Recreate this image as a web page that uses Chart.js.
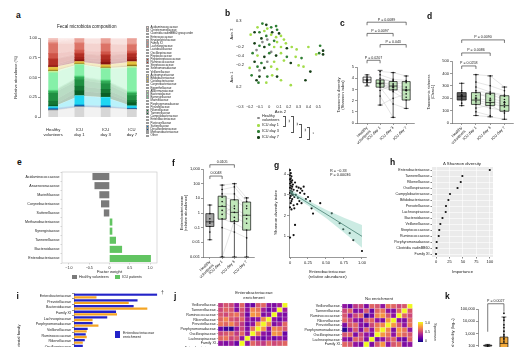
<!DOCTYPE html>
<html>
<head>
<meta charset="utf-8">
<script src="https://cdn.jsdelivr.net/npm/chart.js@4.4.1/dist/chart.umd.min.js"></script>
<style>
  body { margin: 0; background: #fff; overflow: hidden; }
  #fig { position: relative; width: 529px; height: 347px; overflow: hidden; font-family: 'Liberation Sans', Arial, sans-serif; color: #222; }
  canvas { position: absolute; }
  .t { position: absolute; font-size: 4px; line-height: 1.15; white-space: nowrap; }
  .c { transform: translateX(-50%); text-align: center; }
  .L { position: absolute; font-size: 8.5px; line-height: 1; font-weight: bold; color: #111; }
  .rc { position: absolute; font-size: 4px; white-space: nowrap; transform: translate(-50%, -50%) rotate(-90deg); }
  .dot { position: absolute; width: 2.6px; height: 2.6px; border-radius: 50%; }
  .br { position: absolute; width: 1.6px; border: 0.6px solid #555; border-left: none; }
  #legendA { position: absolute; left: 146px; top: 26px; }
  #legendA div { height: 3.2px; font-size: 2.9px; line-height: 3.2px; white-space: nowrap; }
  #legendA span { display: inline-block; width: 3px; height: 2.5px; margin-right: 1.5px; vertical-align: top; margin-top: 0.3px; border: 0.2px solid #999; box-sizing: border-box; }
</style>
</head>
<body>
<div id="fig">
  <canvas id="chartA" width="136" height="107" style="left:12px;top:30px"></canvas>
  <canvas id="chartB" width="105" height="105" style="left:225px;top:10px"></canvas>
  <canvas id="chartC" width="82" height="133" style="left:336px;top:12px"></canvas>
  <canvas id="chartD" width="91" height="133" style="left:426px;top:12px"></canvas>
  <canvas id="chartE" width="147" height="106" style="left:12px;top:168px"></canvas>
  <canvas id="chartF" width="79" height="122" style="left:179px;top:158px"></canvas>
  <canvas id="chartG" width="97" height="120" style="left:273px;top:160px"></canvas>
  <canvas id="chartH" width="140" height="115" style="left:357px;top:160px"></canvas>
  <canvas id="chartI" width="166" height="106" style="left:16px;top:290px"></canvas>
  <canvas id="chartJ1" width="118" height="73" style="left:174px;top:296px"></canvas>
  <canvas id="chartJ2" width="119" height="73" style="left:298px;top:297px"></canvas>
  <canvas id="chartK" width="79" height="95" style="left:450px;top:290px"></canvas>

  <div class="L" style="left:16px;top:10.5px">a</div>
  <div class="L" style="left:225px;top:9px">b</div>
  <div class="L" style="left:340px;top:19px">c</div>
  <div class="L" style="left:427px;top:12px">d</div>
  <div class="L" style="left:17px;top:158px">e</div>
  <div class="L" style="left:172px;top:159px">f</div>
  <div class="L" style="left:274px;top:161px">g</div>
  <div class="L" style="left:390px;top:158px">h</div>
  <div class="L" style="left:16.5px;top:292px">i</div>
  <div class="L" style="left:174px;top:292px">j</div>
  <div class="L" style="left:445px;top:292px">k</div>

  <div class="t" style="left:57px;top:23.5px;font-size:4.6px">Fecal microbiota composition</div>
  <div id="legendA"></div>

  <div class="rc" style="left:231px;top:34px">Axis 3</div>
  <div class="rc" style="left:231px;top:77px">Axis 1</div>
  <div class="t" style="left:236px;top:19px">0.3</div>
  <div class="t" style="left:236px;top:44.5px">−0.2</div>
  <div class="t" style="left:236px;top:53.5px">−0.4</div>
  <div class="t" style="left:236px;top:62.5px">−0.2</div>
  <div class="t" style="left:236px;top:84.5px">0.2</div>
  <div class="dot" style="left:257px;top:116.7px;background:#8a8a8a"></div>
  <div class="t" style="left:262px;top:114px;font-size:3.8px">Healthy<br>volunteers</div>
  <div class="dot" style="left:257px;top:124.2px;background:#a3dc4a"></div>
  <div class="t" style="left:262px;top:123.3px;font-size:3.8px">ICU day 1</div>
  <div class="dot" style="left:257px;top:130.2px;background:#2f7f34"></div>
  <div class="t" style="left:262px;top:129.3px;font-size:3.8px">ICU day 3</div>
  <div class="dot" style="left:257px;top:136.2px;background:#173f17"></div>
  <div class="t" style="left:262px;top:135.3px;font-size:3.8px">ICU day 7</div>
  <div class="br" style="left:283px;top:116px;height:9px"></div>
  <div class="rc" style="left:288px;top:120.5px;transform:translate(-50%,-50%) rotate(90deg)">**</div>
  <div class="br" style="left:291px;top:116px;height:15px"></div>
  <div class="rc" style="left:296px;top:123.5px;transform:translate(-50%,-50%) rotate(90deg)">**</div>
  <div class="br" style="left:299px;top:124px;height:12px"></div>
  <div class="rc" style="left:304px;top:130px;transform:translate(-50%,-50%) rotate(90deg)">**</div>
  <div class="br" style="left:307px;top:127px;height:11px"></div>
  <div class="rc" style="left:312px;top:132.5px;transform:translate(-50%,-50%) rotate(90deg)">*</div>

  <div style="position:absolute;left:72px;top:275px;width:5px;height:4px;background:#7a7a7a"></div>
  <div class="t" style="left:79px;top:275px;font-size:3.6px">Healthy volunteers</div>
  <div style="position:absolute;left:115px;top:275px;width:5px;height:4px;background:#62c462"></div>
  <div class="t" style="left:122px;top:275px;font-size:3.6px">ICU patients</div>

  <div class="t" style="left:330px;top:169px;font-size:3.8px">R = −0.33<br>P = 0.00036</div>
  <div class="t" style="left:443px;top:161.5px;font-size:4.3px">Δ Shannon diversity</div>

  <div style="position:absolute;left:115px;top:331px;width:4.5px;height:7px;background:#2323c8"></div>
  <div class="t" style="left:123px;top:331px;font-size:3.6px">Enterobacteriaceae<br>enrichment</div>
  <div class="t" style="left:161px;top:290px;font-size:5px">†</div>

  <div class="t c" style="left:254px;top:291px;font-size:4.3px">Enterobacteriaceae<br>enrichment</div>
  <div class="t c" style="left:379px;top:297px;font-size:4.3px">No enrichment</div>
  <div style="position:absolute;left:418px;top:322px;width:4.5px;height:20px;background:linear-gradient(to top,#0d0887,#6a00a8,#b12a90,#e16462,#fca636,#f0f921)"></div>
  <div class="t" style="left:425px;top:321px;font-size:3.6px">1.0</div>
  <div class="t" style="left:425px;top:330px;font-size:3.6px">0.5</div>
  <div class="t" style="left:425px;top:339px;font-size:3.6px">0</div>
  <div class="rc" style="left:434.5px;top:332px;transform:translate(-50%,-50%) rotate(90deg);font-size:3.8px">Spearman</div>
</div>

<script>
// ---------- data ----------
const families = [
    'Acidaminococcaceae', 'Christensenellaceae', 'Clostridia vadinBB60 group order', 'Enterococcaceae',
    'Erysipelotrichaceae', 'Family XI', 'Lachnospiraceae', 'Lactobacillaceae', 'Oscillospiraceae',
    'Peptococcaceae', 'Peptostreptococcaceae', 'Ruminococcaceae', 'Streptococcaceae', 'Selenomonadaceae',
    'Veillonellaceae', 'Actinomycetaceae', 'Bifidobacteriaceae', 'Coriobacteriaceae', 'Corynebacteriaceae',
    'Eggerthellaceae', 'Akkermansiaceae', 'Bacteroidaceae', 'Barnesiellaceae', 'Marinifilaceae',
    'Porphyromonadaceae', 'Prevotellaceae', 'Rikenellaceae', 'Tannerellaceae', 'Campylobacteraceae',
    'Enterobacteriaceae', 'Pasteurellaceae', 'Sutterellaceae', 'Desulfovibrionaceae', 'Methanobacteriaceae', 'Other'
];
const compGroups = [['Healthy', 'volunteers'], ['ICU', 'day 1'], ['ICU', 'day 3'], ['ICU', 'day 7']];
const healthyComp = [0.01, 0.02, 0.02, 0.005, 0.015, 0.005, 0.12, 0.005, 0.06, 0.005, 0.01, 0.07, 0.01, 0.005, 0.01,
    0.003, 0.03, 0.01, 0.002, 0.005, 0.02, 0.22, 0.01, 0.01, 0.02, 0.1, 0.05, 0.02, 0.002, 0.015, 0.005, 0.013, 0.005, 0.01, 0.08];
const icuDay1Comp = [0.005, 0.005, 0.005, 0.04, 0.01, 0.005, 0.08, 0.01, 0.03, 0.005, 0.01, 0.04, 0.03, 0.005, 0.02,
    0.002, 0.015, 0.008, 0.002, 0.003, 0.01, 0.14, 0.01, 0.01, 0.03, 0.08, 0.06, 0.06, 0.005, 0.11, 0.005, 0.01, 0.01, 0.005, 0.125];
const icuDay3Comp = [0.005, 0.005, 0.005, 0.05, 0.01, 0.005, 0.09, 0.01, 0.03, 0.005, 0.01, 0.05, 0.03, 0.005, 0.03,
    0.003, 0.02, 0.01, 0.003, 0.004, 0.01, 0.14, 0.01, 0.01, 0.03, 0.07, 0.05, 0.05, 0.005, 0.10, 0.005, 0.01, 0.01, 0.005, 0.115];
const icuDay7Comp = [0.005, 0.005, 0.005, 0.06, 0.01, 0.005, 0.07, 0.01, 0.02, 0.005, 0.01, 0.04, 0.03, 0.005, 0.02,
    0.005, 0.03, 0.01, 0.005, 0.01, 0.02, 0.30, 0.01, 0.01, 0.03, 0.06, 0.03, 0.04, 0.002, 0.025, 0.003, 0.005, 0.005, 0.005, 0.095];

// PCoA coordinates [axis 2, projected axis]
const pcoaHealthy = [[-0.02, 0.15], [-0.02, -0.03], [-0.07, 0.13], [-0.13, 0.065], [0.02, 0.05], [-0.10, -0.10]];
const pcoaDay1 = [[-0.12, 0.25], [-0.02, 0.24], [-0.05, 0.22], [-0.19, 0.19], [0.02, 0.19], [0.07, 0.17], [0.12, 0.18],
    [0.08, 0.13], [0.15, 0.15], [0.17, 0.12], [0.05, 0.09], [0.12, 0.09], [0.23, 0.09], [0.28, 0.07], [0.40, 0.09],
    [0.48, 0.03], [-0.12, 0.02], [0.12, 0.04], [0.27, 0.01], [0.05, -0.03], [0.15, -0.02], [0.30, -0.06], [-0.20, -0.08],
    [0.02, -0.07], [0.08, -0.09], [0.35, -0.07], [0.03, -0.14], [0.12, -0.18], [-0.03, -0.20], [0.22, -0.22]];
const pcoaDay3 = [[0.02, 0.25], [0.07, 0.26], [-0.10, 0.21], [0.08, 0.23], [-0.03, 0.18], [0.05, 0.14], [-0.10, 0.10],
    [0.00, 0.11], [0.52, 0.10], [0.51, 0.04], [-0.17, 0.04], [0.00, 0.04], [0.18, 0.01], [0.33, 0.00], [-0.08, -0.04],
    [-0.12, -0.07], [-0.18, -0.14], [-0.02, -0.15], [-0.11, -0.20], [-0.07, 0.28]];
const pcoaDay7 = [[-0.03, 0.27], [-0.15, 0.21], [0.03, 0.21], [0.10, 0.20], [-0.08, 0.16], [-0.15, 0.12], [-0.05, 0.09],
    [0.18, 0.08], [0.55, 0.06], [0.55, 0.03], [-0.05, 0.01], [0.07, 0.02], [-0.15, -0.03], [0.22, -0.04], [-0.05, -0.08],
    [0.42, -0.11], [-0.10, -0.15], [0.08, -0.15], [-0.13, -0.18], [0.37, -0.18]];

const groupLabels = [['Healthy', 'volunteers'], 'ICU day 1', 'ICU day 3', 'ICU day 7'];

// Shannon index (c)
const shannonMin = [3.3, 1.6, 0.5, 1.3];
const shannonQ1 = [3.6, 3.2, 2.95, 2.05];
const shannonMedian = [3.85, 3.55, 3.3, 2.95];
const shannonQ3 = [4.1, 3.85, 3.7, 3.7];
const shannonMax = [4.3, 4.7, 4.5, 4.2];
const shannonMean = [3.8, 3.5, 3.2, 2.9];
const shannonHealthy = [3.4, 3.6, 3.7, 3.75, 3.8, 3.85, 3.9, 4.0, 4.1, 4.3];
const shannonDay1 = [4.6, 4.3, 4.0, 3.8, 3.7, 3.6, 3.55, 3.5, 3.4, 3.3, 3.2, 2.9, 2.4, 1.6];
const shannonDay3 = [4.5, 3.9, 3.7, 3.8, 3.3, 3.5, 3.0, 3.2, 2.95, 2.8, 1.7, 3.4, 0.5, 2.2];
const shannonDay7 = [4.2, 3.8, 3.7, null, 3.0, 3.6, 2.9, 2.3, null, 2.05, 1.3, 3.2, null, 2.6];
const shannonBrackets = [
    { from: 0, to: 3, level: 9.0, label: 'P = 0.0089' },
    { from: 0, to: 2, level: 8.0, label: 'P = 0.0097' },
    { from: 1, to: 3, level: 7.0, label: 'P = 0.043' },
    { from: 0, to: 1, level: 5.6, label: 'P = 0.0207' }
];

// Chao1 richness (d)
const chaoMin = [140, 60, 50, 30];
const chaoQ1 = [185, 150, 140, 95];
const chaoMedian = [215, 185, 165, 140];
const chaoQ3 = [245, 245, 240, 220];
const chaoMax = [320, 390, 380, 290];
const chaoMean = [220, 200, 185, 165];
const chaoHealthy = [140, 160, 185, 200, 210, 220, 230, 245, 260, 320];
const chaoDay1 = [390, 330, 290, 260, 245, 220, 200, 185, 170, 150, 120, 90, 60];
const chaoDay3 = [380, 300, 250, 240, 200, 230, 180, 160, 140, 120, 145, 60, 50];
const chaoDay7 = [290, 260, 225, 215, 170, 190, 150, 130, null, 100, 80, null, 30];
const chaoBrackets = [
    { from: 0, to: 3, level: 670, label: 'P = 0.0090' },
    { from: 0, to: 2, level: 565, label: 'P = 0.0086' },
    { from: 0, to: 1, level: 460, label: 'P = 0.0258' }
];

// Factor weights (e)
const eFamilies = ['Acidaminococcaceae', 'Anaerovoracaceae', 'Marinifilaceae', 'Corynebacteriaceae', 'Sutterellaceae',
    'Methanobacteriaceae', 'Synergistaceae', 'Tannerellaceae', 'Bacteroidaceae', 'Enterobacteriaceae'];
const eWeights = [-0.42, -0.37, -0.25, -0.21, -0.14, 0.07, 0.07, 0.16, 0.31, 1.02];

// Enterobacteriaceae abundance (f)
const entMin = [0.015, 0.001, 0.001, 0.001];
const entQ1 = [0.12, 0.38, 0.26, 0.068];
const entMedian = [0.25, 2.8, 1.1, 0.7];
const entQ3 = [0.9, 14, 8, 5.6];
const entMax = [3.5, 80, 100, 10.7];
const entHealthy = [0.015, 0.05, 0.12, 0.2, 0.25, 0.4, 0.9, 3.5];
const entDay1 = [80, 40, 20, 12, 6, 3, 1.5, 0.8, 0.4, 0.1, 0.001, 0.001];
const entDay3 = [100, 60, 20, 8, 2, 1.1, 0.5, 3, 0.2, 0.05, 0.3, 0.001];
const entDay7 = [10.7, 6, 3, 2, 0.7, 0.4, 0.2, null, 0.07, 0.02, null, 0.001];
const entBrackets = [
    { from: 0, to: 2, level: 1950, label: '0.0105' },
    { from: 0, to: 1, level: 330, label: '0.0048' }
];

// Correlation (g)
const gAbundance = [0.00, 0.01, 0.00, 0.02, 0.01, 0.00, 0.03, 0.01, 0.02, 0.00, 0.04, 0.01, 0.03, 0.00, 0.02, 0.05,
    0.01, 0.03, 0.00, 0.02, 0.04, 0.01, 0.06, 0.00, 0.03, 0.02, 0.01, 0.05, 0.00, 0.02, 0.07, 0.09, 0.10, 0.12, 0.14,
    0.08, 0.11, 0.15, 0.17, 0.19, 0.20, 0.13, 0.16, 0.06, 0.10, 0.22, 0.25, 0.28, 0.07, 0.05, 0.00, 0.30, 0.32, 0.42,
    0.58, 0.69, 0.74, 0.83, 0.88, 1.00];
const gShannon = [4.2, 4.05, 3.95, 3.9, 3.8, 3.75, 3.7, 3.65, 3.6, 3.55, 3.5, 3.45, 3.4, 3.35, 3.3, 3.25,
    3.2, 3.15, 3.1, 3.05, 3.0, 2.95, 2.9, 2.85, 2.8, 2.7, 2.6, 2.5, 2.4, 2.3, 3.6, 3.4, 3.2, 3.35, 3.1,
    3.0, 2.85, 3.3, 3.2, 3.4, 3.05, 2.7, 2.6, 2.35, 2.55, 2.8, 2.9, 2.7, 1.55, 1.06, 0.94, 2.35, 2.1, 2.6,
    2.11, 1.63, 1.34, 1.15, 0.82, 0.29];
const gFitX = [0, 0.25, 0.5, 0.75, 1.0];
const gFit = [3.15, 2.61, 2.08, 1.54, 1.0];
const gUpper = [3.27, 2.73, 2.28, 1.9, 1.55];
const gLower = [3.03, 2.49, 1.88, 1.18, 0.45];

// Importance (h)
const hFamilies = ['Enterobacteriaceae', 'Tannerellaceae', 'Rikenellaceae', 'Oscillospiraceae', 'Campylobacteraceae',
    'Bifidobacteriaceae', 'Prevotellaceae', 'Lachnospiraceae', 'Bacteroidaceae', 'Veillonellaceae', 'Streptococcaceae',
    'Ruminococcaceae', 'Porphyromonadaceae', 'Clostridia vadinBB60', 'Family XI'];
const hImportance = [100, 49, 46, 40, 26, 23, 18.5, 18, 12, 8, 6, 5, 1.2, 1, 0];

// Enrichment groups (i)
const iFamilies = ['Enterobacteriaceae', 'Prevotellaceae', 'Bacteroidaceae', 'Family XI', 'Lachnospiraceae',
    'Porphyromonadaceae', 'Veillonellaceae', 'Ruminococcaceae', 'Rikenellaceae', 'Oscillospiraceae', 'Tannerellaceae',
    'Streptococcaceae', 'Bifidobacteriaceae', 'Enterococcaceae', 'Christensenellaceae', 'Clostridia vadinBB60'];
const iEnriched = [85, 65, 61, 43, 34, 19, 14, 12, 11, 9, 8, 7, 6, 5, 4, 3];
const iNotEnriched = [23, 56, 75, 44, 19, 25, 13, 13, 9, 10, 8, 7, 5, 5, 3, 3];

// Spearman heatmaps (j)
const heatRows = ['Veillonellaceae', 'Tannerellaceae', 'Ruminococcaceae', 'Rikenellaceae', 'Prevotellaceae',
    'Porphyromonadaceae', 'Oscillospiraceae', 'Lachnospiraceae', 'Family XI', 'Enterobacteriaceae',
    'Clostridia vadinBB60', 'Bifidobacteriaceae', 'Bacteroidaceae'];
const heatEnriched = [
    [0.45, 0.55, 0.5, 0.3, 0.6, 0.25, 0.2, 0.55, 0.6, 0.3, 0.25, 0.35, 1.0],
    [0.5, 0.6, 0.55, 0.25, 0.55, 0.3, 0.7, 0.65, 0.35, 0.2, 0.3, 1.0, 0.35],
    [0.55, 0.5, 0.6, 0.65, 0.5, 0.2, 0.75, 0.7, 0.25, 0.3, 1.0, 0.3, 0.25],
    [0.6, 0.7, 0.55, 0.5, 0.6, 0.3, 0.25, 0.3, 0.7, 1.0, 0.3, 0.2, 0.3],
    [0.65, 0.6, 0.7, 0.55, 0.45, 0.2, 0.3, 0.75, 1.0, 0.7, 0.25, 0.35, 0.6],
    [0.2, 0.1, 0.05, 0.3, 0.5, 0.25, 0.65, 1.0, 0.75, 0.3, 0.7, 0.65, 0.55],
    [0.5, 0.55, 0.6, 0.45, 0.6, 0.3, 1.0, 0.65, 0.3, 0.25, 0.75, 0.7, 0.2],
    [0.6, 0.65, 0.5, 0.55, 0.3, 1.0, 0.3, 0.25, 0.2, 0.3, 0.2, 0.3, 0.25],
    [0.3, 0.25, 0.35, 0.2, 1.0, 0.3, 0.6, 0.5, 0.45, 0.6, 0.5, 0.55, 0.6]
];
const heatNoEnrichment = [
    [0.3, 0.2, 0.45, 0.5, 0.25, 0.6, 0.55, 0.3, 0.65, 0.6, 0.5, 0.55, 1.0],
    [0.5, 0.6, 0.25, 0.3, 0.55, 0.2, 0.6, 0.65, 0.3, 0.25, 0.6, 1.0, 0.55],
    [0.55, 0.3, 0.5, 0.6, 0.1, 0.25, 0.7, 0.75, 0.55, 0.3, 1.0, 0.6, 0.5],
    [0.6, 0.5, 0.3, 0.25, 0.55, 0.6, 0.3, 0.25, 0.75, 1.0, 0.3, 0.25, 0.6],
    [0.25, 0.55, 0.6, 0.3, 0.2, 0.5, 0.65, 0.7, 1.0, 0.75, 0.55, 0.3, 0.65],
    [0.05, 0.3, 0.55, 0.25, 0.6, 0.3, 0.75, 1.0, 0.7, 0.25, 0.75, 0.65, 0.3],
    [0.55, 0.6, 0.25, 0.5, 0.3, 0.25, 1.0, 0.75, 0.65, 0.3, 0.7, 0.6, 0.55],
    [0.3, 0.25, 0.6, 0.55, 0.25, 1.0, 0.25, 0.3, 0.5, 0.6, 0.25, 0.2, 0.6],
    [0.6, 0.55, 0.3, 0.25, 1.0, 0.25, 0.55, 0.75, 0.3, 0.55, 0.6, 0.25, 0.3]
];

// Viability (k)
const kMin = [80, 2];
const kQ1 = [92, 30];
const kMedian = [100, 150];
const kQ3 = [110, 500];
const kMax = [125, 22000];
const kLowPoints = [90, 100, 110];
const kHighPoints = [45000, 20000, 12000, 5000, 3000, 1500, 800, 600, 400, 300, 200];
const kBrackets = [{ from: 0, to: 1, level: 270000, label: 'P = 0.0027', legs: [28, 8] }];

// ---------- styles ----------
const familyColors = [
    '#f6d0cb', '#f2c0ba', '#eeb0a9', '#eaa198', '#e69287', '#e28377', '#dc7367', '#d66357', '#cf5448', '#c7463a',
    '#bd392e', '#b12e24', '#a4241c', '#961b15', '#88130f',
    '#f3e28b', '#e3c23e', '#caa22a', '#a8861c', '#8a6d12',
    '#c6f19a', '#86f0a8', '#5edc88', '#42c46a', '#2fa854', '#1f8f42', '#147634', '#0a5e27',
    '#7eeef0', '#1fd6f2', '#14a8dc', '#0e78c0', '#0a4e96',
    '#9a9a9a', '#d6d6d6'
];
const ink = '#333';
const icuFill = 'rgba(186,229,178,0.9)';
const plasmaStops = ['#0d0887', '#5c01a6', '#9c179e', '#cc4778', '#ed7953', '#fdb42f', '#f0f921'];

Chart.defaults.font.family = "'Liberation Sans', Arial, sans-serif";
Chart.defaults.font.size = 4;
Chart.defaults.color = '#222';
Chart.defaults.animation = false;
Chart.defaults.responsive = false;
Chart.defaults.events = [];
Chart.defaults.plugins.legend.display = false;
Chart.defaults.plugins.tooltip.enabled = false;

// ---------- helpers ----------
const at = vals => s => { s.ticks = vals.map(v => ({ value: v })); };
const tickGrid = () => ({ drawOnChartArea: false, tickLength: 2, color: ink, lineWidth: 0.5 });
const axisBorder = () => ({ color: ink, width: 0.5 });

function mk(id, config) {
    return new Chart(document.getElementById(id), config);
}

function plasma(v) {
    const t = Math.max(0, Math.min(1, v)) * (plasmaStops.length - 1);
    const i = Math.min(Math.floor(t), plasmaStops.length - 2);
    const f = t - i;
    const a = plasmaStops[i], b = plasmaStops[i + 1];
    const ch = (h, k) => parseInt(h.substr(1 + 2 * k, 2), 16);
    const mix = k => Math.round(ch(a, k) + (ch(b, k) - ch(a, k)) * f);
    return `rgb(${mix(0)},${mix(1)},${mix(2)})`;
}

function groupAxis(min, max, height) {
    return {
        type: 'linear', min, max,
        afterBuildTicks: at(groupLabels.map((_, i) => i)),
        afterFit: s => { s.height = height; },
        ticks: { callback: v => groupLabels[v], minRotation: 45, maxRotation: 45, autoSkip: false, padding: 0.5 },
        grid: tickGrid(),
        border: axisBorder()
    };
}

// grey lines joining each patient's ICU days, plus healthy dots
function pairedSets(healthy, day1, day3, day7) {
    const sets = day1.map((v, i) => ({
        data: [[1, v], [2, day3[i]], [3, day7[i]]].filter(p => p[1] != null).map(([x, y]) => ({ x, y })),
        borderColor: '#b4b4b4', borderWidth: 0.35,
        pointRadius: 0.8, pointBackgroundColor: '#111', pointBorderWidth: 0
    }));
    sets.push({
        data: healthy.map(y => ({ x: 0, y })), showLine: false,
        pointRadius: 0.8, pointBackgroundColor: '#111', pointBorderWidth: 0
    });
    return sets;
}

function boxPlot(stats, fills, width) {
    const each = (chart, fn) => {
        const { x, y } = chart.scales;
        stats.med.forEach((_, i) => fn(i, x.getPixelForValue(i), v => y.getPixelForValue(v)));
    };
    return {
        id: 'boxPlot',
        beforeDatasetsDraw(chart) {
            const ctx = chart.ctx;
            ctx.save();
            each(chart, (i, cx, py) => {
                ctx.fillStyle = fills[i];
                ctx.fillRect(cx - width / 2, py(stats.q3[i]), width, py(stats.q1[i]) - py(stats.q3[i]));
            });
            ctx.restore();
        },
        afterDatasetsDraw(chart) {
            const ctx = chart.ctx;
            ctx.save();
            ctx.strokeStyle = '#111';
            ctx.lineWidth = 0.7;
            each(chart, (i, cx, py) => {
                const h = width / 2;
                const top = py(stats.q3[i]), bot = py(stats.q1[i]);
                const hi = py(stats.max[i]), lo = py(stats.min[i]), med = py(stats.med[i]);
                ctx.beginPath();
                ctx.moveTo(cx, hi); ctx.lineTo(cx, top);
                ctx.moveTo(cx, bot); ctx.lineTo(cx, lo);
                ctx.moveTo(cx - h * 0.6, hi); ctx.lineTo(cx + h * 0.6, hi);
                ctx.moveTo(cx - h * 0.6, lo); ctx.lineTo(cx + h * 0.6, lo);
                ctx.rect(cx - h, top, width, bot - top);
                ctx.moveTo(cx - h, med); ctx.lineTo(cx + h, med);
                if (stats.mean) {
                    const m = py(stats.mean[i]);
                    ctx.moveTo(cx - 1.3, m); ctx.lineTo(cx + 1.3, m);
                    ctx.moveTo(cx, m - 1.3); ctx.lineTo(cx, m + 1.3);
                }
                ctx.stroke();
            });
            ctx.restore();
        }
    };
}

function brackets(items) {
    return {
        id: 'brackets',
        afterDraw(chart) {
            const { ctx, scales: { x, y } } = chart;
            ctx.save();
            ctx.strokeStyle = '#222';
            ctx.lineWidth = 0.6;
            ctx.fillStyle = '#222';
            ctx.font = "3.6px 'Liberation Sans', Arial, sans-serif";
            ctx.textAlign = 'center';
            ctx.textBaseline = 'bottom';
            items.forEach(b => {
                const x1 = x.getPixelForValue(b.from), x2 = x.getPixelForValue(b.to);
                const yy = y.getPixelForValue(b.level);
                const legs = b.legs || [3, 3];
                ctx.beginPath();
                ctx.moveTo(x1, yy + legs[0]); ctx.lineTo(x1, yy); ctx.lineTo(x2, yy); ctx.lineTo(x2, yy + legs[1]);
                ctx.stroke();
                ctx.fillText(b.label, (x1 + x2) / 2, yy - 0.8);
            });
            ctx.restore();
        }
    };
}

const panelBg = color => ({
    id: 'panelBg',
    beforeDraw(chart) {
        const { ctx, chartArea: a } = chart;
        ctx.save();
        ctx.fillStyle = color;
        ctx.fillRect(a.left, a.top, a.right - a.left, a.bottom - a.top);
        ctx.restore();
    }
});

const frame = color => ({
    id: 'frame',
    afterDraw(chart) {
        const { ctx, chartArea: a } = chart;
        ctx.save();
        ctx.strokeStyle = color;
        ctx.lineWidth = 0.6;
        ctx.strokeRect(a.left, a.top, a.right - a.left, a.bottom - a.top);
        ctx.restore();
    }
});

// ---------- a: composition ----------
const compData = [healthyComp, icuDay1Comp, icuDay3Comp, icuDay7Comp];
const stackOrder = families.map((_, k) => families.length - 1 - k);
const ribbonSets = stackOrder.map((k, j) => ({
    type: 'line',
    data: compData.map(g => g[k]),
    backgroundColor: familyColors[k] + '50',
    borderWidth: 0, pointRadius: 0,
    fill: j === 0 ? 'origin' : '-1',
    order: 2
}));
const barSets = stackOrder.map(k => ({
    type: 'bar',
    data: compData.map(g => g[k]),
    backgroundColor: familyColors[k],
    barThickness: 9,
    order: 1
}));
mk('chartA', {
    type: 'bar',
    data: { labels: compGroups, datasets: [...ribbonSets, ...barSets] },
    options: {
        layout: { padding: { top: 8, right: 3 } },
        scales: {
            x: { stacked: true, afterFit: s => { s.height = 20; }, grid: { display: false }, border: { display: false },
                 ticks: { padding: 2, font: { size: 4.2 } } },
            y: { stacked: true, min: 0, max: 1, afterFit: s => { s.width = 28; },
                 afterBuildTicks: at([0, 0.25, 0.5, 0.75, 1]),
                 ticks: { callback: v => v === 0 ? '0' : v.toFixed(2), padding: 1 },
                 grid: tickGrid(), border: axisBorder(),
                 title: { display: true, text: 'Relative abundance (%)', padding: 1 } }
        }
    }
});
document.getElementById('legendA').innerHTML = families
    .map((f, k) => `<div><span style="background:${familyColors[k]}"></span>${f}</div>`).join('');

// ---------- b: PCoA ----------
mk('chartB', {
    type: 'scatter',
    data: {
        datasets: [[pcoaDay7, '#173f17'], [pcoaDay3, '#2f7f34'], [pcoaDay1, '#a3dc4a'], [pcoaHealthy, '#8a8a8a']]
            .map(([pts, c]) => ({ data: pts.map(([x, y]) => ({ x, y })), backgroundColor: c, pointRadius: 1.35, borderWidth: 0 }))
    },
    options: {
        layout: { padding: { left: 10, top: 5, right: 2 } },
        scales: {
            x: { min: -0.35, max: 0.58, afterBuildTicks: at([-0.3, -0.2, -0.1, 0, 0.1, 0.2, 0.3, 0.4, 0.5]),
                 afterFit: s => { s.height = 20; },
                 ticks: { callback: v => Math.abs(v) < 1e-9 ? '0' : v.toFixed(1).replace('-', '−'), padding: 2,
                          minRotation: 0, maxRotation: 0, autoSkip: false, font: { size: 3.6 } },
                 grid: { display: false }, border: { display: false },
                 title: { display: true, text: 'Axis 2', padding: 1, font: { size: 4.2 } } },
            y: { display: false, min: -0.3, max: 0.35 }
        }
    }
});

// ---------- c: Shannon ----------
mk('chartC', {
    type: 'line',
    data: { datasets: pairedSets(shannonHealthy, shannonDay1, shannonDay3, shannonDay7) },
    options: {
        layout: { padding: { top: 55, right: 4 } },
        scales: {
            x: groupAxis(-0.77, 3.6, 22),
            y: { min: 0, max: 5, afterFit: s => { s.width = 21; }, afterBuildTicks: at([0, 1, 2, 3, 4, 5]),
                 ticks: { padding: 1 }, grid: tickGrid(), border: axisBorder(),
                 title: { display: true, text: ['Taxonomic diversity', '(Shannon index)'], padding: 0 } }
        }
    },
    plugins: [
        boxPlot({ min: shannonMin, q1: shannonQ1, med: shannonMedian, q3: shannonQ3, max: shannonMax, mean: shannonMean },
            ['#f4f4f4', icuFill, icuFill, icuFill], 8),
        brackets(shannonBrackets)
    ]
});

// ---------- d: Chao1 ----------
mk('chartD', {
    type: 'line',
    data: { datasets: pairedSets(chaoHealthy, chaoDay1, chaoDay3, chaoDay7) },
    options: {
        layout: { padding: { top: 49, right: 2 } },
        scales: {
            x: groupAxis(-0.68, 3.6, 22),
            y: { min: 0, max: 500, afterFit: s => { s.width = 26; }, afterBuildTicks: at([0, 100, 200, 300, 400, 500]),
                 ticks: { padding: 1 }, grid: tickGrid(), border: axisBorder(),
                 title: { display: true, text: ['Taxonomic richness', '(Chao1)'], padding: 0 } }
        }
    },
    plugins: [
        boxPlot({ min: chaoMin, q1: chaoQ1, med: chaoMedian, q3: chaoQ3, max: chaoMax, mean: chaoMean },
            ['#5d5d5d', icuFill, icuFill, icuFill], 9),
        brackets(chaoBrackets)
    ]
});

// ---------- e: factor weights ----------
mk('chartE', {
    type: 'bar',
    data: { labels: eFamilies, datasets: [{
        data: eWeights,
        backgroundColor: eWeights.map(v => v < 0 ? '#7a7a7a' : '#62c462'),
        barPercentage: 0.82, categoryPercentage: 0.95
    }] },
    options: {
        indexAxis: 'y',
        layout: { padding: { top: 4, right: 2 } },
        scales: {
            x: { min: -1.17, max: 1.17, afterBuildTicks: at([-1, -0.5, 0, 0.5, 1]), afterFit: s => { s.height = 11; },
                 ticks: { callback: v => v === 0 ? '0' : v.toFixed(1).replace('-', '−'), padding: 1, font: { size: 3.6 } },
                 grid: { drawOnChartArea: false, tickLength: 1.5, color: '#999', lineWidth: 0.4 }, border: { display: false },
                 title: { display: true, text: 'Factor weight', padding: 0, font: { size: 4.2 } } },
            y: { afterFit: s => { s.width = 50; }, ticks: { padding: 1, font: { size: 3.6 }, autoSkip: false },
                 grid: { drawOnChartArea: false, tickLength: 1.5, color: '#999', lineWidth: 0.4 }, border: { display: false } }
        }
    },
    plugins: [frame('#c4c4c4')]
});

// ---------- f: Enterobacteriaceae ----------
mk('chartF', {
    type: 'line',
    data: { datasets: pairedSets(entHealthy, entDay1, entDay3, entDay7) },
    options: {
        layout: { padding: { top: 11, right: 3 } },
        scales: {
            x: groupAxis(-0.56, 3.6, 23),
            y: { type: 'logarithmic', min: 0.001, max: 1000, afterFit: s => { s.width = 24; },
                 afterBuildTicks: at([0.001, 0.01, 0.1, 1, 10, 100, 1000]),
                 ticks: { callback: v => v >= 1000 ? v.toLocaleString('en-US') : String(v), padding: 1 },
                 grid: tickGrid(), border: axisBorder(),
                 title: { display: true, text: ['Enterobacteriaceae', '(relative abundance)'], padding: 0 } }
        }
    },
    plugins: [
        boxPlot({ min: entMin, q1: entQ1, med: entMedian, q3: entQ3, max: entMax },
            ['#a3a3a3', icuFill, icuFill, icuFill], 8),
        brackets(entBrackets)
    ]
});

// ---------- g: correlation ----------
mk('chartG', {
    type: 'line',
    data: { datasets: [
        { data: gFitX.map((x, i) => ({ x, y: gLower[i] })), borderWidth: 0, pointRadius: 0, fill: false },
        { data: gFitX.map((x, i) => ({ x, y: gUpper[i] })), borderWidth: 0, pointRadius: 0, fill: '-1',
          backgroundColor: 'rgba(128,205,185,0.4)' },
        { data: gFitX.map((x, i) => ({ x, y: gFit[i] })), borderColor: '#1f4d43', borderWidth: 0.8, pointRadius: 0 },
        { data: gAbundance.map((x, i) => ({ x, y: gShannon[i] })), showLine: false,
          pointRadius: 1.1, pointBackgroundColor: '#111', pointBorderWidth: 0 }
    ] },
    options: {
        layout: { padding: { top: 8, right: 4 } },
        scales: {
            x: { type: 'linear', min: -0.014, max: 1.056, afterBuildTicks: at([0, 0.25, 0.5, 0.75, 1]),
                 afterFit: s => { s.height = 23; },
                 ticks: { callback: v => v === 0 ? '0' : v.toFixed(2), padding: 1, maxRotation: 0, autoSkip: false },
                 grid: tickGrid(), border: axisBorder(),
                 title: { display: true, text: ['Enterobacteriaceae', '(relative abundance)'], padding: 1, font: { size: 4.2 } } },
            y: { min: 0, max: 4.3, afterFit: s => { s.width = 16; }, afterBuildTicks: at([1, 2, 3, 4]),
                 ticks: { padding: 1 }, grid: tickGrid(), border: axisBorder(),
                 title: { display: true, text: 'Shannon diversity index', padding: 0, font: { size: 4.2 } } }
        }
    }
});

// ---------- h: importance ----------
mk('chartH', {
    type: 'line',
    data: { labels: hFamilies, datasets: [{
        data: hImportance, showLine: false, pointRadius: 1.1, pointBackgroundColor: '#111', pointBorderWidth: 0
    }] },
    options: {
        indexAxis: 'y',
        layout: { padding: { top: 7, right: 4 } },
        scales: {
            x: { type: 'linear', min: -7.5, max: 106, afterBuildTicks: at([0, 25, 50, 75, 100]),
                 afterFit: s => { s.height = 18; },
                 ticks: { padding: 1, maxRotation: 0 },
                 grid: { color: '#fff', lineWidth: 0.6, tickColor: ink, tickLength: 1.5 }, border: { display: false },
                 title: { display: true, text: 'Importance', padding: 1, font: { size: 4.2 } } },
            y: { offset: true, afterFit: s => { s.width = 75; }, ticks: { padding: 1, font: { size: 3.6 }, autoSkip: false },
                 grid: { offset: false, color: '#fff', lineWidth: 0.6, tickColor: ink, tickLength: 1.5 }, border: { display: false } }
        }
    },
    plugins: [panelBg('#ebebeb')]
});

// ---------- i: enrichment bars ----------
mk('chartI', {
    type: 'bar',
    data: { labels: iFamilies, datasets: [
        { data: iEnriched, backgroundColor: '#2323c8', categoryPercentage: 0.9, barPercentage: 0.9 },
        { data: iNotEnriched, backgroundColor: '#f4a524', categoryPercentage: 0.9, barPercentage: 0.9 }
    ] },
    options: {
        indexAxis: 'y',
        layout: { padding: { top: 2, right: 4 } },
        scales: {
            x: { min: 0, max: 104, afterFit: s => { s.height = 12; }, grid: { display: false }, border: axisBorder() },
            y: { afterFit: s => { s.width = 58; }, ticks: { padding: 1, font: { size: 3.6 }, autoSkip: false },
                 grid: tickGrid(), border: axisBorder(),
                 title: { display: true, text: 'Bacterial family', padding: 0, font: { size: 4.2 } } }
        }
    }
});

// ---------- j: heatmaps ----------
function heatmap(id, matrix) {
    const cells = [];
    matrix.forEach((row, r) => row.forEach((v, c) => cells.push({ x: c, y: r, v })));
    mk(id, {
        type: 'scatter',
        data: { datasets: [{
            data: cells, pointStyle: 'rect', pointRadius: 3.75,
            backgroundColor: ctx => ctx.raw ? plasma(ctx.raw.v) : '#000',
            borderColor: '#fff', borderWidth: 0.3
        }] },
        options: {
            layout: { padding: { top: 7, right: 2 } },
            scales: {
                x: { display: false, min: -0.5, max: 12.5 },
                y: { reverse: true, min: -0.5, max: 12.5, afterFit: s => { s.width = 44; },
                     afterBuildTicks: at(heatRows.map((_, i) => i)),
                     ticks: { callback: v => heatRows[v], padding: 1, font: { size: 3.6 }, autoSkip: false },
                     grid: { drawOnChartArea: false, tickLength: 1.2, color: ink, lineWidth: 0.4 }, border: { display: false } }
            }
        }
    });
}
heatmap('chartJ1', heatEnriched);
heatmap('chartJ2', heatNoEnrichment);

// ---------- k: viability ----------
mk('chartK', {
    type: 'line',
    data: { datasets: [
        { data: kLowPoints.map(y => ({ x: 0, y })), showLine: false, pointRadius: 0.8, pointBackgroundColor: '#111', pointBorderWidth: 0 },
        { data: kHighPoints.map(y => ({ x: 1, y })), showLine: false, pointRadius: 0.9, pointBackgroundColor: '#111', pointBorderWidth: 0 }
    ] },
    options: {
        layout: { padding: { top: 19, right: 2 } },
        scales: {
            x: { type: 'linear', min: -0.6, max: 2.3, afterBuildTicks: at([0, 1]), afterFit: s => { s.height = 15; },
                 ticks: { display: false }, grid: tickGrid(), border: axisBorder() },
            y: { type: 'logarithmic', min: 1, max: 100000, afterFit: s => { s.width = 28; },
                 afterBuildTicks: at([1, 10, 100, 1000, 10000, 100000]),
                 ticks: { callback: v => v.toLocaleString('en-US'), padding: 1 },
                 grid: tickGrid(), border: axisBorder(),
                 title: { display: true, text: 'Microbial viability (log₁₀)', padding: 0 } }
        }
    },
    plugins: [
        boxPlot({ min: kMin, q1: kQ1, med: kMedian, q3: kQ3, max: kMax }, ['#ffffff', '#f2a93b'], 8),
        brackets(kBrackets)
    ]
});
</script>
</body>
</html>
